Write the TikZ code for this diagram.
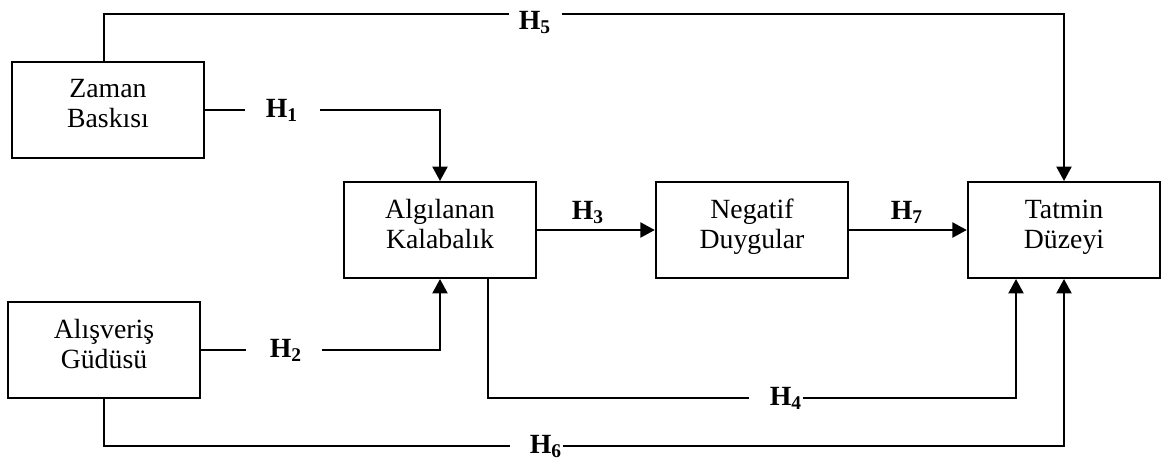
\documentclass[tikz,border=0pt]{standalone}
\usepackage{fontspec}
\setmainfont{Liberation Serif}
\usetikzlibrary{arrows.meta}

\tikzset{
    kutu/.style={draw,line width=0.9pt,minimum width=86.6pt,minimum height=43.2pt,align=center,inner sep=0pt,text depth=5.5pt,font=\fontsize{12.5}{13.5}\selectfont},
    hyp/.style={inner sep=0pt,font=\fontsize{12.5}{14}\selectfont\bfseries},
    ok/.style={line width=0.9pt,-{Triangle[length=6.5pt,width=6.8pt]}},
    cizgi/.style={line width=0.9pt}
}

\begin{document}
\begin{tikzpicture}[x=0.45pt,y=-0.45pt]

                \useasboundingbox (0,0) rectangle (1168,464);

                % kutular
                \node[kutu] (zaman) at (108,110) {Zaman\\Baskısı};
                \node[kutu] (alis) at (104,350) {Alışveriş\\Güdüsü};
                \node[kutu] (alg) at (440,230) {Algılanan\\Kalabalık};
                \node[kutu] (neg) at (752,230) {Negatif\\Duygular};
                \node[kutu] (tat) at (1064,230) {Tatmin\\Düzeyi};

                % hipotez etiketleri
                \node[hyp] (h1) at (282,110) {H\textsubscript{1}};
                \node[hyp] (h2) at (286,350) {H\textsubscript{2}};
                \node[hyp] (h3) at (588,212) {H\textsubscript{3}};
                \node[hyp] (h4) at (786,398) {H\textsubscript{4}};
                \node[hyp] (h5) at (535,22) {H\textsubscript{5}};
                \node[hyp] (h6) at (546,446) {H\textsubscript{6}};
                \node[hyp] (h7) at (907,212) {H\textsubscript{7}};

                \coordinate (c5) at (104,14);
                \coordinate (c4a) at (488,398);
                \coordinate (c4b) at (1016,398);
                \coordinate (c6) at (104,446);

                % H1, H2
                \draw [cizgi] (zaman.east) -- ([xshift=-9pt]h1.west |- zaman.east);
                \draw [ok] ([xshift=9.5pt]h1.east |- zaman.east) -| (alg.north);
                \draw [cizgi] (alis.east) -- ([xshift=-10.5pt]h2.west |- alis.east);
                \draw [ok] ([xshift=8.5pt]h2.east |- alis.east) -| (alg.south);

                % H3, H7
                \draw [ok] (alg) -- (neg);
                \draw [ok] (neg) -- (tat);

                % H5
                \draw [cizgi] (zaman.north -| c5) -- (c5) -- ([xshift=-4pt]h5.west |- c5);
                \draw [ok] ([xshift=4.5pt]h5.east |- c5) -| (tat.north);

                % H4
                \draw [cizgi] (alg.south -| c4a) -- (c4a) -- ([xshift=-9pt]h4.west |- c4a);
                \draw [ok] (h4.east |- c4a) -- (c4b) -- (tat.south -| c4b);

                % H6
                \draw [cizgi] (alis.south) -- (c6) -- ([xshift=-8.5pt]h6.west |- c6);
                \draw [ok] (h6.east |- c6) -| (tat.south);

\end{tikzpicture}
\end{document}
